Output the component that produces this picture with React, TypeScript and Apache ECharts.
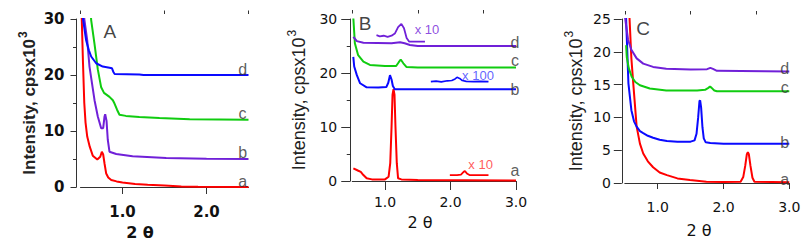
import React, { useEffect, useRef } from 'react';
import * as echarts from 'echarts';

const RED = '#ff0000';
const PURPLE = '#7020d8';
const BLUE = '#0a0aff';
const GREEN = '#10cc10';

// ---- Panel A ----
const A_a = [[0.5, 36], [0.515, 30], [0.53, 22], [0.545, 15], [0.56, 11.5], [0.58, 9], [0.61, 7.2], [0.646, 5.6], [0.7, 4.9], [0.735, 5.4], [0.754, 6.3], [0.77, 5.8], [0.786, 4.2], [0.806, 2.4], [0.83, 1.7], [0.866, 1.25], [0.93, 1.0], [1.0, 0.8], [1.15, 0.55], [1.3, 0.4], [1.5, 0.25], [1.7, 0.1], [1.9, 0.05], [2.5, 0]];
const A_b = [[0.52, 36], [0.545, 30], [0.58, 26.2], [0.607, 21.5], [0.667, 15.5], [0.706, 12.6], [0.746, 10.5], [0.77, 10.5], [0.786, 12.6], [0.794, 13], [0.81, 11.8], [0.825, 8.4], [0.845, 6.3], [0.925, 5.9], [1.12, 5.5], [1.52, 5.2], [2.0, 5.05], [2.5, 5]];
const A_c = [[0.6, 36], [0.627, 29.8], [0.667, 25.5], [0.706, 21], [0.746, 17.8], [0.78, 16.8], [0.845, 16.1], [0.885, 15.5], [0.905, 14.9], [0.935, 13.8], [0.964, 12.9], [1.04, 12.7], [1.2, 12.5], [1.44, 12.3], [1.8, 12.1], [2.5, 12.0]];
const A_d = [[0.51, 34], [0.53, 30], [0.567, 26.2], [0.6, 24.4], [0.627, 23.3], [0.686, 22.1], [0.765, 21.5], [0.845, 21.3], [0.875, 21.2], [0.89, 20.6], [0.905, 20.2], [1.2, 20.1], [1.25, 20.0], [2.5, 20.0]];

// ---- Panel B ----
const B_a = [[0.517, 2.35], [0.593, 1.9], [0.63, 1.7], [0.67, 1.1], [0.72, 0.5], [0.8, 0.3], [1.0, 0.3], [1.055, 0.8], [1.08, 3.3], [1.1, 10], [1.115, 16], [1.13, 17], [1.145, 16], [1.16, 10], [1.18, 3.3], [1.2, 0.5], [1.25, 0.3], [1.5, 0.2], [3.0, 0.1]];
const B_a10 = [[1.99, 1.1], [2.1, 1.1], [2.16, 1.2], [2.2, 1.7], [2.22, 1.85], [2.25, 1.4], [2.29, 1.1], [2.58, 1.1]];
const B_b = [[0.516, 23], [0.53, 21.2], [0.57, 19.6], [0.62, 18.1], [0.72, 17.35], [0.9, 17.3], [1.02, 17.4], [1.05, 18.2], [1.076, 19.6], [1.1, 18.8], [1.12, 17.6], [1.15, 17.0], [3.0, 17.0]];
const B_b100 = [[1.7, 18.4], [1.78, 18.5], [1.86, 18.35], [1.95, 18.55], [2.02, 18.6], [2.07, 18.9], [2.1, 19.2], [2.14, 19.0], [2.18, 18.6], [2.24, 18.45], [2.35, 18.4], [2.45, 18.45], [2.58, 18.4]];
const B_c = [[0.517, 30.1], [0.54, 25.5], [0.59, 23.3], [0.67, 22.1], [0.77, 21.5], [1.0, 21.3], [1.17, 21.3], [1.21, 22.0], [1.24, 22.5], [1.28, 21.8], [1.33, 21.1], [1.5, 21.0], [3.0, 21.0]];
const B_d = [[0.517, 26.7], [0.57, 25.9], [0.67, 25.6], [1.1, 25.5], [1.23, 25.7], [1.3, 25.5], [1.38, 25.2], [1.5, 25.0], [3.0, 25.0]];
const B_d10 = [[0.87, 27.0], [0.92, 26.8], [0.98, 26.9], [1.04, 26.7], [1.1, 26.9], [1.15, 27.3], [1.2, 28.5], [1.25, 29.1], [1.29, 28.3], [1.33, 26.5], [1.37, 25.8], [1.5, 25.8], [1.61, 25.8]];

// ---- Panel C ----
const C_a = [[0.55, 30], [0.57, 25.5], [0.6, 19], [0.63, 15], [0.68, 8.6], [0.73, 6], [0.78, 4.5], [0.85, 3.3], [0.93, 2.4], [1.03, 1.6], [1.14, 1.2], [1.3, 0.7], [1.49, 0.45], [1.74, 0.2], [2.0, 0.15], [2.26, 0.2], [2.3, 0.9], [2.33, 2.6], [2.355, 4.4], [2.37, 4.7], [2.385, 4.4], [2.41, 2.6], [2.44, 0.8], [2.47, 0.2], [3.0, 0.1]];
const C_b = [[0.5, 30], [0.52, 25], [0.555, 15.2], [0.6, 11.1], [0.64, 9.4], [0.68, 8.6], [0.73, 7.9], [0.78, 7.6], [0.85, 7.2], [0.93, 6.9], [1.03, 6.6], [1.14, 6.4], [1.3, 6.3], [1.5, 6.3], [1.56, 6.5], [1.59, 7.5], [1.615, 10], [1.635, 12.5], [1.645, 12.6], [1.66, 11.5], [1.68, 8.5], [1.7, 6.8], [1.73, 6.2], [1.8, 6.1], [2.0, 6.0], [3.0, 6.0]];
const C_c = [[0.52, 21], [0.53, 19.2], [0.56, 17.5], [0.605, 16.2], [0.66, 15.4], [0.73, 14.9], [0.88, 14.4], [1.13, 14.1], [1.6, 14.1], [1.72, 14.2], [1.77, 14.5], [1.795, 14.7], [1.82, 14.5], [1.86, 14.1], [1.9, 14.0], [3.0, 14.0]];
const C_d = [[0.5, 25.5], [0.55, 21.8], [0.6, 20.3], [0.68, 19], [0.78, 18.2], [0.93, 17.7], [1.13, 17.4], [1.5, 17.3], [1.75, 17.35], [1.8, 17.55], [1.84, 17.4], [1.9, 17.1], [3.0, 17.0]];

// ---- tick values ----
const A_X_LABELS = [1, 2];
const BC_X_LABELS = [1, 2, 3];
const X_MINOR = [0.5, 1.5, 2.5];

// ---- text annotations (data coordinates) ----
const CURVE_LETTERS = ['a', 'b', 'c', 'd'];
const A_LETTER_POS = [[2.43, 0.9], [2.43, 6.1], [2.43, 13.2], [2.43, 20.9]];
const B_LETTER_POS = [[2.985, 2.0], [2.985, 17.0], [2.985, 22.4], [2.985, 25.7]];
const C_LETTER_POS = [[2.93, 0.6], [2.93, 6.1], [2.93, 14.5], [2.93, 17.5]];
const PANEL_NAMES = ['A', 'B', 'C'];
const PANEL_NAME_POS = [[0.85, 27.7], [0.695, 29.1], [0.78, 23.6]];
const B_SCALE_NOTES = [
  { text: 'x 10', pos: [1.64, 28.0], color: PURPLE },
  { text: 'x 100', pos: [2.42, 19.6], color: '#3a3aff' },
  { text: 'x 10', pos: [2.46, 3.0], color: '#ff3030' },
];

const TICK_FONT = 'DejaVu Sans';
const TEXT_FONT = 'Liberation Sans, Arial, sans-serif';

const GRIDS = [
  { left: 80.5, top: 19, width: 168, height: 168 },
  { left: 352.25, top: 19, width: 163.75, height: 162 },
  { left: 624.8, top: 19, width: 164.5, height: 164 },
];

function lineSeries(data: number[][], color: string, idx: number, width = 2) {
  return {
    type: 'line',
    xAxisIndex: idx,
    yAxisIndex: idx,
    data,
    symbol: 'none',
    showSymbol: false,
    clip: true,
    silent: true,
    lineStyle: { color, width },
    z: 3,
  };
}

function textSeries(items: { text: string; pos: number[]; color: string; size: number }[], idx: number) {
  return {
    type: 'scatter',
    xAxisIndex: idx,
    yAxisIndex: idx,
    clip: false,
    silent: true,
    symbolSize: 1,
    itemStyle: { color: 'rgba(0,0,0,0)' },
    z: 5,
    data: items.map((it) => ({
      name: it.text,
      value: it.pos,
      label: {
        show: true,
        position: 'inside',
        formatter: '{b}',
        color: it.color,
        fontSize: it.size,
        fontFamily: TEXT_FONT,
      },
    })),
  };
}

export default function App() {
  const ref = useRef<HTMLDivElement>(null);
  useEffect(() => {
    document.body.style.margin = '0';
    if (!ref.current) return;
    const chart = echarts.init(ref.current, undefined, { renderer: 'svg' });

    const xMax = [2.5, 3.0, 3.0];
    const xLabels = [A_X_LABELS, BC_X_LABELS, BC_X_LABELS];
    const xOffset = [5, 5.5, 4.5];
    const xMajorLen = [7, 9, 6];
    const xLabelMargin = [12, 8, 12];
    const bold = [true, false, false];
    const yMax = [30, 30, 25];
    const yInterval = [10, 10, 5];
    const yMinor = [true, true, false];
    const yOffset = [4, 2, 3];
    const yTickLen = [6, 9, 8];
    const yLabelMargin = [12, 13, 11];
    const yNameGap = [37, 41, 36];
    const nameSize = [17, 18, 18];

    const axisLine = { show: true, lineStyle: { color: '#333', width: 1 } };

    const xAxes: any[] = [];
    for (let i = 0; i < 3; i++) {
      xAxes.push({
        type: 'value',
        gridIndex: i,
        min: 0.5,
        max: xMax[i],
        interval: 0.5,
        offset: xOffset[i],
        axisLine,
        splitLine: { show: false },
        axisTick: { show: true, customValues: xLabels[i], length: xMajorLen[i], lineStyle: { color: '#333' } },
        axisLabel: {
          show: true,
          customValues: xLabels[i],
          formatter: (v: number) => v.toFixed(1),
          margin: xLabelMargin[i],
          fontFamily: TICK_FONT,
          fontSize: bold[i] ? 15 : 14,
          fontWeight: bold[i] ? 'bold' : 'normal',
          color: '#111',
        },
      });
    }
    for (let i = 0; i < 3; i++) {
      xAxes.push({
        type: 'value',
        gridIndex: i,
        min: 0.5,
        max: xMax[i],
        interval: 0.5,
        offset: xOffset[i],
        axisLine: { show: false },
        splitLine: { show: false },
        axisTick: { show: true, customValues: X_MINOR.filter((v) => v <= xMax[i]), length: 3.5, lineStyle: { color: '#333' } },
        axisLabel: { show: false },
      });
    }

    const yAxes: any[] = [];
    for (let i = 0; i < 3; i++) {
      const fw = bold[i] ? 'bold' : 'normal';
      yAxes.push({
        type: 'value',
        gridIndex: i,
        min: 0,
        max: yMax[i],
        interval: yInterval[i],
        offset: yOffset[i],
        axisLine,
        splitLine: { show: false },
        axisTick: { show: true, length: yTickLen[i], lineStyle: { color: '#333' } },
        minorTick: { show: yMinor[i], splitNumber: 2, length: 3.5, lineStyle: { color: '#333' } },
        minorSplitLine: { show: false },
        axisLabel: {
          margin: yLabelMargin[i],
          fontFamily: TICK_FONT,
          fontSize: bold[i] ? 15 : 14,
          fontWeight: fw,
          color: '#111',
        },
        name: '{m|Intensity, cpsx10}{s|3}',
        nameLocation: 'middle',
        nameGap: yNameGap[i],
        nameTextStyle: {
          rich: {
            m: { fontSize: nameSize[i], fontFamily: TEXT_FONT, fontWeight: fw, color: '#222', lineHeight: 20 },
            s: { fontSize: 12, fontFamily: TEXT_FONT, fontWeight: fw, color: '#222', verticalAlign: 'bottom', padding: [0, 0, 11, 1], lineHeight: 12 },
          },
        },
      });
    }

    const letterItems = (pos: number[][]) =>
      CURVE_LETTERS.map((t, k) => ({ text: t, pos: pos[k], color: '#333', size: 16 }));

    const series: any[] = [
      lineSeries(A_a, RED, 0),
      lineSeries(A_b, PURPLE, 0),
      lineSeries(A_c, GREEN, 0),
      lineSeries(A_d, BLUE, 0),
      lineSeries(B_a, RED, 1),
      lineSeries(B_a10, RED, 1, 1.8),
      lineSeries(B_b, BLUE, 1),
      lineSeries(B_b100, BLUE, 1, 1.6),
      lineSeries(B_c, GREEN, 1),
      lineSeries(B_d, PURPLE, 1),
      lineSeries(B_d10, PURPLE, 1, 1.8),
      lineSeries(C_a, RED, 2),
      lineSeries(C_b, BLUE, 2),
      lineSeries(C_c, GREEN, 2),
      lineSeries(C_d, PURPLE, 2),
      textSeries(letterItems(A_LETTER_POS), 0),
      textSeries(letterItems(B_LETTER_POS), 1),
      textSeries(letterItems(C_LETTER_POS), 2),
      textSeries(B_SCALE_NOTES.map((n) => ({ text: n.text, pos: n.pos, color: n.color, size: 13 })), 1),
    ];
    for (let i = 0; i < 3; i++) {
      series.push(textSeries([{ text: PANEL_NAMES[i], pos: PANEL_NAME_POS[i], color: '#111', size: 19 }], i));
    }

    const thetaPos = [[140, 232, true], [420, 222, false], [699, 230, false]];
    const graphic = thetaPos.map(([x, y, b]) => ({
      type: 'text',
      x: x as number,
      y: y as number,
      silent: true,
      style: {
        text: '2 θ',
        font: `${b ? 'bold ' : ''}16px ${TICK_FONT}`,
        fill: '#111',
        align: 'center',
        verticalAlign: 'middle',
        textAlign: 'center',
        textVerticalAlign: 'middle',
      },
    }));

    chart.setOption({
      animation: false,
      backgroundColor: '#fff',
      grid: GRIDS,
      xAxis: xAxes,
      yAxis: yAxes,
      series,
      graphic,
    });
    return () => chart.dispose();
  }, []);
  return <div ref={ref} style={{ width: 810, height: 245 }} />;
}
